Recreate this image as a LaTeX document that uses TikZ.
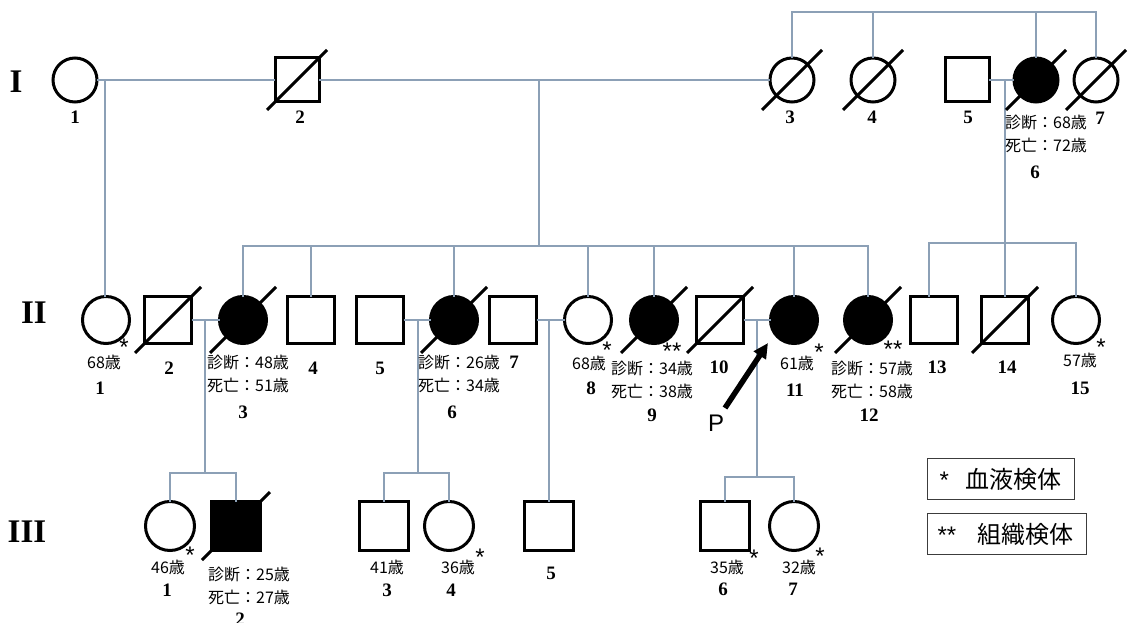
\documentclass[tikz,border=0pt]{standalone}
\usepackage{fontspec}
\setmainfont{Liberation Serif}
\newfontfamily\jpfont{Noto Sans CJK JP}
\newfontfamily\arialfont{Liberation Sans}
\usetikzlibrary{arrows.meta}
\definecolor{linecol}{RGB}{140,160,182}
\definecolor{boxcol}{RGB}{60,60,60}
% diagonal stroke through a deceased person's symbol
\newcommand\deadmark[2]{\draw[slash] ([shift={(-#2,#2)}]#1.center) -- ([shift={(#2,-#2)}]#1.center);}
\begin{document}
\begin{tikzpicture}[x=1pt,y=-1pt,
  sym/.style={draw=black,line width=3pt,fill=white,inner sep=0pt,outer sep=0pt},
  male/.style={sym,rectangle,minimum size=#1},
  female/.style={sym,circle,minimum size=#1},
  aff/.style={fill=black},
  slash/.style={draw=black,line width=3pt},
  conn/.style={draw=linecol,line width=1.3pt},
  num/.style={font=\bfseries\fontsize{19}{19}\selectfont,inner sep=0pt},
  roman/.style={font=\bfseries\fontsize{33}{33}\selectfont,inner sep=0pt},
  info/.style={font=\jpfont\fontsize{16}{23}\selectfont,align=center,inner sep=0pt},
  age/.style={font=\jpfont\fontsize{16}{16}\selectfont,inner sep=0pt},
  star/.style={font=\arialfont\fontsize{24}{24}\selectfont,inner sep=0pt},
  legbox/.style={draw=boxcol,line width=1.3pt,font=\jpfont\fontsize{24}{24}\selectfont,
    align=left,inner ysep=0pt,minimum height=41pt,anchor=north west},
  parrow/.style={draw=black,line width=5.5pt,-{Triangle[length=15pt,width=14pt]}},
]
\useasboundingbox (0,0) rectangle (1128,623);
\fill[white] (0,0) rectangle (1128,623);

% generation labels
\node[roman] (genI) at (16,82) {I};
\node[roman] (genII) at (34,313) {II};
\node[roman] (genIII) at (27,532) {III};

% generation I
\node[female=44] (I1) at (75,80) {};
\node[male=44] (I2) at (297,80) {};
\node[female=44] (I3) at (792,80) {};
\node[female=44] (I4) at (873,80) {};
\node[male=44] (I5) at (967,80) {};
\node[female=44,aff] (I6) at (1036,80) {};
\node[female=44] (I7) at (1096,80) {};

% generation II
\node[female=47] (II1) at (106,320) {};
\node[male=47] (II2) at (168,320) {};
\node[female=47,aff] (II3) at (243,320) {};
\node[male=47] (II4) at (311,320) {};
\node[male=47] (II5) at (380,320) {};
\node[female=47,aff] (II6) at (454,320) {};
\node[male=47] (II7) at (513,320) {};
\node[female=47] (II8) at (588,320) {};
\node[female=47,aff] (II9) at (654,320) {};
\node[male=47] (II10) at (720,320) {};
\node[female=47,aff] (II11) at (794,320) {};
\node[female=47,aff] (II12) at (868,320) {};
\node[male=47] (II13) at (934,320) {};
\node[male=47] (II14) at (1005,320) {};
\node[female=47] (II15) at (1076,320) {};

% generation III
\node[female=49] (III1) at (170,526) {};
\node[male=49,aff] (III2) at (236,526) {};
\node[male=49,line width=3.6pt] (III3) at (384,526) {};
\node[female=49] (III4) at (449,526) {};
\node[male=49,line width=3.6pt] (III5) at (549,526) {};
\node[male=49,line width=3.6pt] (III6) at (725,526) {};
\node[female=49] (III7) at (794,526) {};

% sibship of I-3, I-4, I-6, I-7
\coordinate (topbar) at (0,12);
\draw[conn] (I3.north) -- (I3 |- topbar) -- (I7 |- topbar) -- (I7.north);
\draw[conn] (I4.north) -- (I4 |- topbar);
\draw[conn] (I6.north) -- (I6 |- topbar);

% marriage line of generation I and its descents
\draw[conn] (I1) -- (I2);
\draw[conn] (I2) -- (I3);
\coordinate (dropA) at (105,80);
\coordinate (dropB) at (539,80);
\coordinate (sibII) at (539,246);
\draw[conn] (dropA) -- (dropA |- II1.north);
\draw[conn] (dropB) -- (sibII);
\draw[conn] (II3.north) -- (II3 |- sibII) -- (II12 |- sibII) -- (II12.north);
\foreach \n in {II4,II6,II8,II9,II11} {\draw[conn] (\n.north) -- (\n |- sibII);}

% I-5 x I-6 and their children
\draw[conn] (I5) -- (I6);
\coordinate (dropC) at (1005,80);
\coordinate (sibR) at (929,243);
\draw[conn] (dropC) -- (II14.north);
\draw[conn] (sibR |- II13.north) -- (sibR) -- (II15 |- sibR) -- (II15.north);

% generation II marriages
\draw[conn] (II2) -- (II3);
\draw[conn] (II5) -- (II6);
\draw[conn] (II7) -- (II8);
\draw[conn] (II10) -- (II11);
\coordinate (m1) at (205,320);
\coordinate (m2) at (418,320);
\coordinate (m3) at (549,320);
\coordinate (m4) at (757,320);
\coordinate (s1) at (205,473);
\coordinate (s2) at (418,473);
\coordinate (s4) at (757,477);
\draw[conn] (m1) -- (s1);
\draw[conn] (III1.north) -- (III1 |- s1) -- (III2 |- s1) -- (III2.north);
\draw[conn] (m2) -- (s2);
\draw[conn] (III3.north) -- (III3 |- s2) -- (III4 |- s2) -- (III4.north);
\draw[conn] (m3) -- (m3 |- III5.north);
\draw[conn] (m4) -- (s4);
\draw[conn] (III6.north) -- (III6 |- s4) -- (III7 |- s4) -- (III7.north);

% deceased
\foreach \n in {I2,I3,I4,I6,I7} {\deadmark{\n}{30}}
\foreach \n in {II2,II3,II6,II9,II10,II12,II14} {\deadmark{\n}{33}}
\deadmark{III2}{34}

% proband arrow
\node[font=\arialfont\fontsize{24}{24}\selectfont,inner sep=0pt] (P) at (716,423) {P};
\coordinate (ptail) at (725,408);
\draw[parrow] (ptail) -- ([shift={(-26,23)}]II11.center);

% numbers, generation I
\node[num] (nI1) at (75,117) {1};
\node[num] (nI2) at (300,117) {2};
\node[num] (nI3) at (790,117) {3};
\node[num] (nI4) at (872,117) {4};
\node[num] (nI5) at (968,117) {5};
\node[num] (nI6) at (1035,172) {6};
\node[num] (nI7) at (1100,118) {7};
\node[info] (tI6) at (1046,134) {診断：68歳\\死亡：72歳};

% numbers and notes, generation II
\node[num] (nII1) at (100,388) {1};
\node[num] (nII2) at (169,368) {2};
\node[num] (nII3) at (243,412) {3};
\node[num] (nII4) at (313,368) {4};
\node[num] (nII5) at (380,368) {5};
\node[num] (nII6) at (452,412) {6};
\node[num] (nII7) at (514,362) {7};
\node[num] (nII8) at (591,388) {8};
\node[num] (nII9) at (652,415) {9};
\node[num] (nII10) at (719,367) {10};
\node[num] (nII11) at (795,390) {11};
\node[num] (nII12) at (869,415) {12};
\node[num] (nII13) at (937,367) {13};
\node[num] (nII14) at (1007,367) {14};
\node[num] (nII15) at (1080,388) {15};

\node[age] (aII1) at (104,362) {68歳};
\node[age] (aII8) at (589,363) {68歳};
\node[age] (aII11) at (797,363) {61歳};
\node[age] (aII15) at (1080,360) {57歳};
\node[info] (tII3) at (248,373.5) {診断：48歳\\死亡：51歳};
\node[info] (tII6) at (459,373.5) {診断：26歳\\死亡：34歳};
\node[info] (tII9) at (652,380) {診断：34歳\\死亡：38歳};
\node[info] (tII12) at (872,380) {診断：57歳\\死亡：58歳};

\node[star] (kII1) at (124,347) {*};
\node[star] (kII8) at (607,350) {*};
\node[star] (kII9) at (672,351) {**};
\node[star] (kII11) at (819,352) {*};
\node[star] (kII12) at (893,349) {**};
\node[star] (kII15) at (1101,347) {*};

% numbers and notes, generation III
\node[num] (nIII1) at (167,590) {1};
\node[num] (nIII2) at (240,619) {2};
\node[num] (nIII3) at (387,590) {3};
\node[num] (nIII4) at (451,590) {4};
\node[num] (nIII5) at (551,573) {5};
\node[num] (nIII6) at (723,589) {6};
\node[num] (nIII7) at (793,589) {7};

\node[age] (aIII1) at (168,567) {46歳};
\node[age] (aIII3) at (387,567) {41歳};
\node[age] (aIII4) at (458,567) {36歳};
\node[age] (aIII6) at (727,567) {35歳};
\node[age] (aIII7) at (799,567) {32歳};
\node[info] (tIII2) at (249,586) {診断：25歳\\死亡：27歳};

\node[star] (kIII1) at (190,555) {*};
\node[star] (kIII4) at (480,557) {*};
\node[star] (kIII6) at (754,558) {*};
\node[star] (kIII7) at (820,556) {*};

% legend
\node[legbox,inner xsep=12pt,text width=123pt] (key1) at (927,458) {\makebox[26pt][l]{\arialfont\fontsize{24}{24}\selectfont *}血液検体};
\node[legbox,inner xsep=10pt,text width=139pt] (key2) at (927,513) {\makebox[40pt][l]{\arialfont\fontsize{24}{24}\selectfont **}組織検体};
\end{tikzpicture}
\end{document}
